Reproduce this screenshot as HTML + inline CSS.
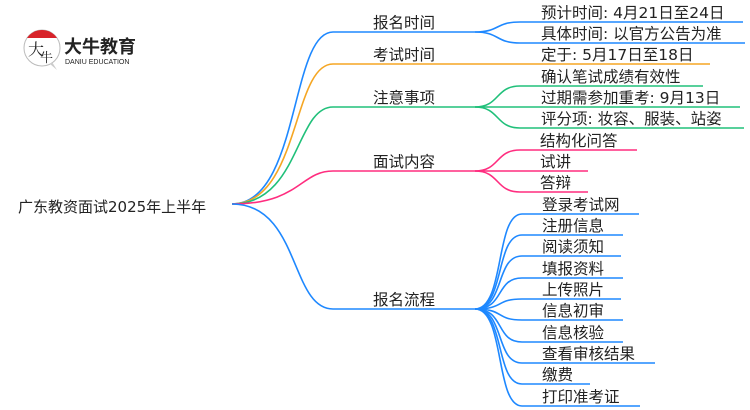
<!DOCTYPE html>
<html><head><meta charset="utf-8"><style>
html,body{margin:0;padding:0;background:#fff;width:750px;height:410px;overflow:hidden}
svg text{font-family:"DejaVu Sans","Noto Sans CJK SC",sans-serif;fill:#222}
</style></head><body>
<svg width="750" height="410" viewBox="0 0 750 410" xmlns="http://www.w3.org/2000/svg">
<!-- logo -->
<circle cx="42" cy="48" r="18" fill="#fff" stroke="#bbb" stroke-width="1"/>
<path d="M27,38 A18,18 0 0 1 57,38 Z" fill="#d8232a"/>
<path d="M50,64 L57,70 L52,62 Z" fill="#ccc"/>
<text x="28" y="55" font-size="16" style="font-family:'Noto Serif CJK SC',serif">大</text>
<text x="40" y="62" font-size="13" style="font-family:'Noto Serif CJK SC',serif">牛</text>
<text x="64" y="53" font-size="18" font-weight="bold" style="font-family:'Noto Sans CJK SC',sans-serif">大牛教育</text>
<text x="65" y="64" font-size="7" style="font-family:'Liberation Sans',sans-serif">DANIU EDUCATION</text>

<g fill="none" stroke-width="1.6">
<path d="M232,204 C300,204 290,32 333,32 L475,32" stroke="#1e88ff"/>
<path d="M232,204 C300,204 292,64 333,64 L710,64" stroke="#f5a623"/>
<path d="M232,204 C300,204 295,107 333,107 L475,107" stroke="#20c07a"/>
<path d="M232,204 C300,204 300,171 333,171 L475,171" stroke="#ff2d7f"/>
<path d="M232,204 C300,204 290,309 333,309 L475,309" stroke="#1e88ff"/>
<g stroke="#1e88ff">
<path d="M475,32 C500,32 495,22 520,22 L743,22"/>
<path d="M475,32 C500,32 495,43 520,43 L745,43"/>
</g>
<g stroke="#20c07a">
<path d="M475,107 C500,107 495,86 520,86 L703,86"/>
<path d="M475,107 L740,107"/>
<path d="M475,107 C500,107 495,128 520,128 L744,128"/>
</g>
<g stroke="#ff2d7f">
<path d="M475,171 C500,171 495,150 520,150 L637,150"/>
<path d="M475,171 L588,171"/>
<path d="M475,171 C500,171 495,192 520,192 L588,192"/>
</g>
<g stroke="#1e88ff">
<path d="M475,309 C505,309 495,214 522,214 L639,214"/>
<path d="M475,309 C505,309 495,235 522,235 L623,235"/>
<path d="M475,309 C505,309 495,256 522,256 L621,256"/>
<path d="M475,309 C505,309 495,278 522,278 L623,278"/>
<path d="M475,309 C505,309 495,299 522,299 L621,299"/>
<path d="M475,309 C505,309 495,320 522,320 L623,320"/>
<path d="M475,309 C505,309 495,342 522,342 L623,342"/>
<path d="M475,309 C505,309 495,363 522,363 L655,363"/>
<path d="M475,309 C505,309 495,384 522,384 L590,384"/>
<path d="M475,309 C505,309 495,406 522,406 L640,406"/>
</g>
</g>

<g font-size="15.5">
<text x="18" y="212" font-size="15">广东教资面试2025年上半年</text>
<text x="373" y="28">报名时间</text>
<text x="373" y="60">考试时间</text>
<text x="373" y="103">注意事项</text>
<text x="373" y="167">面试内容</text>
<text x="373" y="305">报名流程</text>

<text x="541" y="18">预计时间: 4月21日至24日</text>
<text x="541" y="39">具体时间: 以官方公告为准</text>
<text x="541" y="60">定于: 5月17日至18日</text>
<text x="541" y="82">确认笔试成绩有效性</text>
<text x="541" y="103">过期需参加重考: 9月13日</text>
<text x="541" y="124">评分项: 妆容、服装、站姿</text>
<text x="540" y="146">结构化问答</text>
<text x="540" y="167">试讲</text>
<text x="540" y="188">答辩</text>
<text x="542" y="210">登录考试网</text>
<text x="542" y="231">注册信息</text>
<text x="542" y="252">阅读须知</text>
<text x="542" y="274">填报资料</text>
<text x="542" y="295">上传照片</text>
<text x="542" y="316">信息初审</text>
<text x="542" y="338">信息核验</text>
<text x="542" y="359">查看审核结果</text>
<text x="542" y="380">缴费</text>
<text x="542" y="402">打印准考证</text>
</g>
</svg>
</body></html>
